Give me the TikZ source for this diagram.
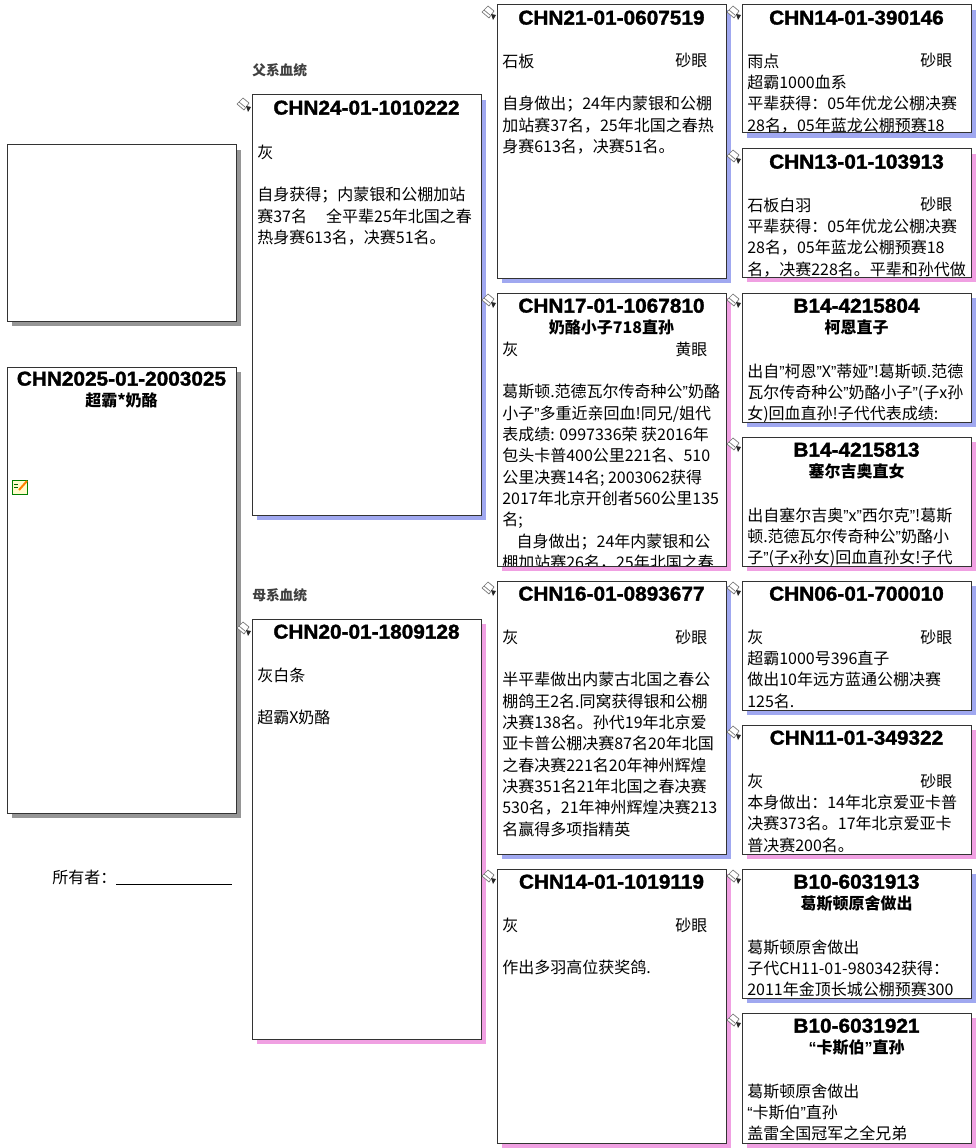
\documentclass[tikz,border=0pt]{standalone}
\usepackage{fontspec}
\setmainfont{Noto Sans CJK SC}
\newfontfamily\idfont{Liberation Sans Bold}[FakeBold=1.6, FakeStretch=1.04]
\newfontfamily\quotefont{Liberation Sans}
\newcommand{\qL}{{\quotefont “}}
\newcommand{\qR}{{\quotefont ”}}
\definecolor{sireshadow}{RGB}{160,168,240}
\definecolor{damshadow}{RGB}{240,160,226}
\definecolor{greyshadow}{RGB}{150,150,150}
\tikzset{
  bucket/.pic={
    \draw[black!55, fill=white, line width=0.5pt] (1,7) -- (7,1) -- (13,6) -- (8,13) -- cycle;
    \draw[black!55, line width=0.5pt] (3,5) -- (9,10);
    \fill[black!85] (10,9) -- (15,10) -- (12,15) -- cycle;
  }
}
\begin{document}
\begin{tikzpicture}[x=0.75pt, y=-0.75pt,
  card/.style={draw=black!80, fill=white, line width=0.75pt},
  idtext/.style={anchor=base, inner sep=0pt, font=\idfont\fontsize{15}{16}\selectfont},
  subtext/.style={anchor=base, inner sep=0pt, font=\bfseries\fontsize{12}{16}\selectfont},
  bodytext/.style={anchor=north west, inner sep=0pt, align=left, font=\fontsize{12}{16}\selectfont},
  eyetext/.style={anchor=base west, inner sep=0pt, font=\fontsize{12}{16}\selectfont},
  sectext/.style={anchor=base west, inner sep=0pt, text=black!75, font=\bfseries\fontsize{10.3}{12}\selectfont}]
	\useasboundingbox (0,0) rectangle (977,1148);
	% shadows
	\fill[greyshadow] (12,150) rectangle (241,326);
	\fill[greyshadow] (12,372) rectangle (241,818);
	\fill[sireshadow] (257,100) rectangle (486,520);
	\fill[damshadow] (257,624) rectangle (486,1044);
	\fill[sireshadow] (502,10) rectangle (731,283);
	\fill[damshadow] (502,298) rectangle (731,571);
	\fill[sireshadow] (502,586) rectangle (731,859);
	\fill[damshadow] (502,874) rectangle (731,1148);
	\fill[sireshadow] (747,10) rectangle (976,138);
	\fill[damshadow] (747,154) rectangle (976,282);
	\fill[sireshadow] (747,298) rectangle (976,427);
	\fill[damshadow] (747,442) rectangle (976,571);
	\fill[sireshadow] (747,586) rectangle (976,715);
	\fill[damshadow] (747,730) rectangle (976,859);
	\fill[sireshadow] (747,874) rectangle (976,1003);
	\fill[damshadow] (747,1018) rectangle (976,1148);
	% boxes
	\draw[card] (7,145) rectangle (236,321);
	\draw[card] (7,367) rectangle (236,813);
	\draw[card] (252,95) rectangle (481,515);
	\draw[card] (252,619) rectangle (481,1039);
	\draw[card] (497,5) rectangle (726,278);
	\draw[card] (497,293) rectangle (726,566);
	\draw[card] (497,581) rectangle (726,854);
	\draw[card] (497,869) rectangle (726,1143);
	\draw[card] (742,5) rectangle (971,133);
	\draw[card] (742,149) rectangle (971,277);
	\draw[card] (742,293) rectangle (971,422);
	\draw[card] (742,437) rectangle (971,566);
	\draw[card] (742,581) rectangle (971,710);
	\draw[card] (742,725) rectangle (971,854);
	\draw[card] (742,869) rectangle (971,998);
	\draw[card] (742,1013) rectangle (971,1143);
	% icons
	\pic at (236,97) {bucket};
	\pic at (236,621) {bucket};
	\pic at (481,5) {bucket};
	\pic at (481,293) {bucket};
	\pic at (481,581) {bucket};
	\pic at (481,869) {bucket};
	\pic at (726,5) {bucket};
	\pic at (726,149) {bucket};
	\pic at (726,293) {bucket};
	\pic at (726,437) {bucket};
	\pic at (726,581) {bucket};
	\pic at (726,725) {bucket};
	\pic at (726,869) {bucket};
	\pic at (726,1013) {bucket};
	\draw[green!50!black, fill=yellow!20, line width=0.5pt] (12,480) rectangle (27,494);
	\draw[green!40!black, line width=0.5pt] (14,484) -- (18,484) (14,487) -- (18,487);
	\draw[orange, line width=1.5pt] (19,490) -- (27,481);
	% subject
	\node[idtext] (idself) at (121.5,385.6) {CHN2025-01-2003025};
	\node[subtext] (nameself) at (121.5,406) {超霸*奶酪};
	\node[eyetext] (owner) at (52,883) {所有者：};
	\coordinate (ownline) at (116,884);
	\draw[line width=0.75pt] (ownline) -- +(116,0);
	% generation 1
	\node[sectext] (sirelabel) at (252,76) {父系血统};
	\node[sectext] (damlabel) at (252,600) {母系血统};
	\node[idtext] (idsire) at (366.5,114.6) {CHN24-01-1010222};
	\node[bodytext] (txtsire) at (257,143.1) {\strut 灰\\ \\ 自身获得；内蒙银和公棚加站\\ 赛37名\hspace{1.2em}全平辈25年北国之春\\ 热身赛613名，决赛51名。};
	\node[idtext] (iddam) at (366.5,638.6) {CHN20-01-1809128};
	\node[bodytext] (txtdam) at (257,666.1) {\strut 灰白条\\ \\ 超霸X奶酪};
	% generation 2
	\node[idtext] (idss) at (611.5,24.6) {CHN21-01-0607519};
	\node[bodytext] (txtss) at (502,52.1) {\strut 石板\\ \\ 自身做出；24年内蒙银和公棚\\ 加站赛37名，25年北国之春热\\ 身赛613名，决赛51名。};
	\node[eyetext] (eyess) at (675,67) {砂眼};
	\node[idtext] (idsd) at (611.5,312.6) {CHN17-01-1067810};
	\node[subtext] (namesd) at (611.5,333) {奶酪小子718直孙};
	\begin{scope}
		\clip (497,293) rectangle (726,565.5);
		\node[bodytext] (txtsd) at (502,340.1) {\strut 灰\\ \\ 葛斯顿.范德瓦尔传奇种公\qR 奶酪\\ 小子\qR 多重近亲回血!同兄/姐代\\ 表成绩: 0997336荣 获2016年\\ 包头卡普400公里221名、510\\ 公里决赛14名; 2003062获得\\ 2017年北京开创者560公里135\\ 名;\\ \hspace*{0.9em}自身做出；24年内蒙银和公\\ 棚加站赛26名，25年北国之春};
	\end{scope}
	\node[eyetext] (eyesd) at (675,355) {黄眼};
	\node[idtext] (idds) at (611.5,600.6) {CHN16-01-0893677};
	\node[bodytext] (txtds) at (502,628.1) {\strut 灰\\ \\ 半平辈做出内蒙古北国之春公\\ 棚鸽王2名.同窝获得银和公棚\\ 决赛138名。孙代19年北京爱\\ 亚卡普公棚决赛87名20年北国\\ 之春决赛221名20年神州辉煌\\ 决赛351名21年北国之春决赛\\ 530名，21年神州辉煌决赛213\\ 名赢得多项指精英};
	\node[eyetext] (eyeds) at (675,643) {砂眼};
	\node[idtext] (iddd) at (611.5,888.6) {CHN14-01-1019119};
	\node[bodytext] (txtdd) at (502,916.1) {\strut 灰\\ \\ 作出多羽高位获奖鸽.};
	\node[eyetext] (eyedd) at (675,931) {砂眼};
	% generation 3
	\node[idtext] (idsss) at (856.5,24.6) {CHN14-01-390146};
	\node[bodytext] (txtsss) at (747,52.1) {\strut 雨点\\ 超霸1000血系\\ 平辈获得：05年优龙公棚决赛\\ 28名，05年蓝龙公棚预赛18};
	\node[eyetext] (eyesss) at (920,67) {砂眼};
	\node[idtext] (idssd) at (856.5,168.6) {CHN13-01-103913};
	\begin{scope}
		\clip (742,149) rectangle (971,276.5);
		\node[bodytext] (txtssd) at (747,196.1) {\strut 石板白羽\\ 平辈获得：05年优龙公棚决赛\\ 28名，05年蓝龙公棚预赛18\\ 名，决赛228名。平辈和孙代做};
	\end{scope}
	\node[eyetext] (eyessd) at (920,211) {砂眼};
	\node[idtext] (idsds) at (856.5,312.6) {B14-4215804};
	\node[subtext] (namesds) at (856.5,333) {柯恩直子};
	\node[bodytext] (txtsds) at (747,362.1) {\strut 出自\qR 柯恩\qR X\qR 蒂娅\qR !葛斯顿.范德\\ 瓦尔传奇种公\qR 奶酪小子\qR (子x孙\\ 女)回血直孙!子代代表成绩:};
	\node[idtext] (idsdd) at (856.5,456.6) {B14-4215813};
	\node[subtext] (namesdd) at (856.5,477) {塞尔吉奥直女};
	\begin{scope}
		\clip (742,437) rectangle (971,565.5);
		\node[bodytext] (txtsdd) at (747,506.1) {\strut 出自塞尔吉奥\qR x\qR 西尔克\qR !葛斯\\ 顿.范德瓦尔传奇种公\qR 奶酪小\\ 子\qR (子x孙女)回血直孙女!子代};
	\end{scope}
	\node[idtext] (iddss) at (856.5,600.6) {CHN06-01-700010};
	\node[bodytext] (txtdss) at (747,628.1) {\strut 灰\\ 超霸1000号396直子\\ 做出10年远方蓝通公棚决赛\\ 125名.};
	\node[eyetext] (eyedss) at (920,643) {砂眼};
	\node[idtext] (iddsd) at (856.5,744.6) {CHN11-01-349322};
	\node[bodytext] (txtdsd) at (747,772.1) {\strut 灰\\ 本身做出：14年北京爱亚卡普\\ 决赛373名。17年北京爱亚卡\\ 普决赛200名。};
	\node[eyetext] (eyedsd) at (920,787) {砂眼};
	\node[idtext] (idds1) at (856.5,888.6) {B10-6031913};
	\node[subtext] (nameds1) at (856.5,909) {葛斯顿原舍做出};
	\node[bodytext] (txtds1) at (747,938.1) {\strut 葛斯顿原舍做出\\ 子代CH11-01-980342获得：\\ 2011年金顶长城公棚预赛300};
	\node[idtext] (iddd1) at (856.5,1032.6) {B10-6031921};
	\node[subtext] (namedd1) at (856.5,1053) {\qL 卡斯伯\qR 直孙};
	\node[bodytext] (txtdd1) at (747,1082.1) {\strut 葛斯顿原舍做出\\ \qL 卡斯伯\qR 直孙\\ 盖雷全国冠军之全兄弟};
\end{tikzpicture}
\end{document}
